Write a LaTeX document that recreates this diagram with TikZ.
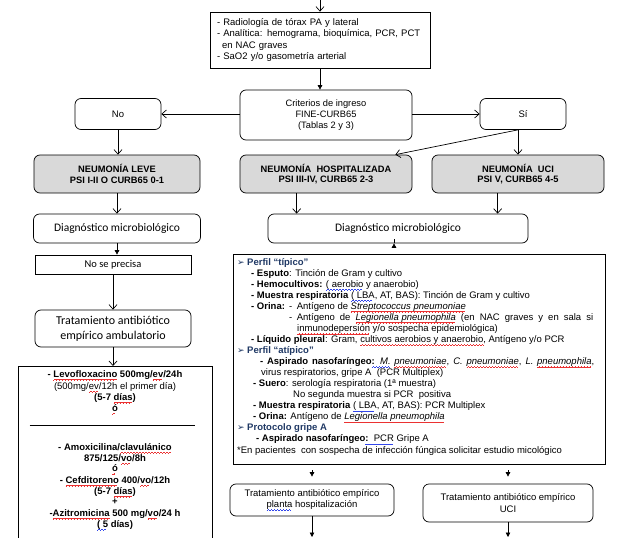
\documentclass[tikz,border=0pt]{standalone}
\usepackage{fontspec}
\setmainfont{Liberation Sans}
\newfontfamily\calibfont{Carlito}
\newfontfamily\djvfont{DejaVu Sans}
\usetikzlibrary{arrows.meta,calc}
\definecolor{boxgray}{RGB}{217,217,217}
\definecolor{navy}{RGB}{31,56,100}
\definecolor{sqred}{RGB}{235,50,50}
\definecolor{sqblue}{RGB}{50,70,235}
\newcommand{\fs}[2]{\fontsize{#1}{#2}\selectfont}
\newcommand{\arrb}{{\djvfont\fs{9}{11}\char"27A2}\hspace{2.5pt}}
\newcommand{\wavecell}{\hbox{\rule[-3.0pt]{0.75pt}{0.5pt}\rule[-2.6pt]{0.75pt}{0.5pt}\rule[-2.2pt]{0.75pt}{0.5pt}\rule[-2.6pt]{0.75pt}{0.5pt}}}
\newcommand{\sqg}[2]{\setbox0\hbox{#2}\rlap{\color{#1}\hbox to\wd0{\leaders\wavecell\hfil}}\box0\relax}
\newcommand{\rw}[1]{\sqg{sqred}{#1}}
\newcommand{\bw}[1]{\sqg{sqblue}{#1}}
\begin{document}
\begin{tikzpicture}[x=1pt,y=-1pt,
  box/.style={draw, line width=0.7pt, inner sep=0pt, align=center, font=\fs{9.5}{11.5}},
  rbox/.style={box, rounded corners=6pt},
  gbox/.style={rbox, fill=boxgray, font=\bfseries\fs{9.3}{10.8}},
  oarr/.style={draw, line width=0.7pt, -{Straight Barb[length=4.5pt,width=8pt]}},
  farr/.style={draw, line width=0.7pt, -{Triangle[length=4.5pt,width=4.5pt]}},
  tl/.style={anchor=base west, inner sep=0pt, font=\fs{9.5}{11}},
  tc/.style={anchor=base, inner sep=0pt, font=\bfseries\fs{9.5}{11}},
  hd/.style={tl, text=navy, font=\bfseries\fs{9.5}{11}},
]
\useasboundingbox (0,0) rectangle (622,538);

% top
\coordinate (in) at (320,0);
\node[box, minimum width=220pt, minimum height=56pt, text width=206pt, align=left] (top) at (320,40)
 {- Radiología de tórax PA y lateral\\- Analítica: hemograma, bioquímica, PCR, PCT\\\hspace*{5pt}en NAC graves\\- SaO2 y/o gasometría arterial};
\draw[oarr] (in) -- (top.north);

\node[rbox, minimum width=172pt, minimum height=50pt, font=\fs{9.3}{11}] (crit) at (326,115)
 {Criterios de ingreso\\FINE-CURB65\\(Tablas 2 y 3)};
\draw[farr] (top.south) -- (top.south |- crit.north);

\node[rbox, minimum width=86pt, minimum height=31pt] (no) at (118,114) {No};
\node[rbox, minimum width=86pt, minimum height=31pt] (si) at (523,114) {Sí};
\draw[oarr] (crit.west |- no) -- (no.east);
\draw[oarr] (crit.east |- si) -- (si.west);

% gray boxes
\node[gbox, minimum width=166pt, minimum height=38pt] (leve) at (117,174) {NEUMONÍA LEVE\\PSI I-II O CURB65 0-1};
\node[gbox, minimum width=172pt, minimum height=38pt] (hosp) at (326,174) {NEUMONÍA\ \ HOSPITALIZADA\\PSI III-IV, CURB65 2-3};
\node[gbox, minimum width=172pt, minimum height=38pt] (uci) at (518,174) {NEUMONÍA\ \ UCI\\PSI V, CURB65 4-5};
\draw[oarr] (no.south) -- (no.south |- leve.north);
\coordinate (sib) at (uci.north |- si.south);
\draw[oarr] (sib) -- (uci.north);
\draw[oarr] (sib) -- ($(hosp.north east)+(-17,0)$);

% diagnostic boxes
\node[rbox, minimum width=167pt, minimum height=29pt, font=\calibfont\fs{11.5}{13}] (dl) at (117,228.5) {Diagnóstico microbiológico};
\node[rbox, minimum width=260pt, minimum height=29pt, font=\calibfont\fs{11.5}{13}] (dr) at (398,228.5) {Diagnóstico microbiológico};
\draw[oarr] (leve.south) -- (leve.south |- dl.north);
\coordinate (h1) at ($(hosp.south west)+(57,0)$);
\coordinate (u1) at ($(uci.south west)+(66,0)$);
\draw[oarr] (h1) -- (h1 |- dr.north);
\draw[oarr] (u1) -- (u1 |- dr.north);

% left column
\node[box, minimum width=156pt, minimum height=19pt, font=\calibfont\fs{10.5}{12}] (nsp) at (113,264.5) {No se precisa};
\draw[farr] (dl.south) -- (dl.south |- nsp.north);
\node[rbox, minimum width=156pt, minimum height=37pt, font=\calibfont\fs{12}{15}] (tamb) at (113,328.5) {Tratamiento antibiótico\\empírico ambulatorio};
\draw[oarr] (nsp.south) -- (tamb.north);
\node[box, minimum width=194pt, minimum height=182pt, anchor=north] (levo) at (115,366) {};
\draw[oarr] (tamb.south) -- (tamb.south |- levo.north);
\node[tc] (v1) at (115,377) {- \rw{Levofloxacino} 500mg/\rw{ev}/24h};
\node[tc, font=\fs{9.5}{11}] (v2) at (115,389) {(500mg/\rw{ev}/12h el primer día)};
\node[tc] (v3) at (115,400) {(5-7 \rw{días})};
\node[tc] (v4) at (115,411) {\rw{ó}};
\draw[line width=0.7pt] ($(levo.north west)+(12,59)$) -- ($(levo.north east)+(-17,59)$);
\node[tc] (v5) at (115,450) {- Amoxicilina/\rw{clavulánico}};
\node[tc] (v6) at (115,461) {875/125/\rw{vo}/8h};
\node[tc] (v7) at (115,471.5) {\rw{ó}};
\node[tc] (v8) at (115,483) {- \rw{Cefditoreno} 400/\rw{vo}/12h};
\node[tc] (v9) at (115,494) {(5-7 \rw{días})};
\node[tc] (v10) at (115,504) {+};
\node[tc] (v11) at (115,516) {-\rw{Azitromicina} 500 mg/\rw{vo}/24 h};
\node[tc] (v12) at (115,527) {\bw{( 5} días)};

% big box
\node[box, minimum width=372pt, minimum height=210pt] (big) at (419,359) {};
\draw[farr] ($(dr.south)+(-4,0)$) -- ($(dr.south)+(-4,0)$ |- big.north);
\node[hd] (b1) at (237,265.0) {\arrb Perfil “típico”};
\node[tl] (b2) at (251,276.1) {\textbf{- Esputo}: Tinción de Gram y cultivo};
\node[tl] (b3) at (251,287.1) {\textbf{- Hemocultivos:} \bw{( aerobio} y anaerobio)};
\node[tl] (b4) at (251,298.2) {\textbf{- Muestra respiratoria} \bw{( LBA}, AT, BAS): Tinción de Gram y cultivo};
\node[tl] (b5) at (251,309.2) {\textbf{- Orina:}};
\node[tl] (b5b) at (289,309.2) {-\hspace{4.5pt}Antígeno de \textit{\rw{Streptococcus pneumoniae}}};
\node[tl] (b6) at (289,320.3) {\makebox[304pt][s]{-\hspace{4.5pt}Antígeno de \textit{\rw{Legionella pneumophila}} (en NAC graves y en sala si}};
\node[tl] (b7) at (297,331.4) {\rw{inmunodepersión} y/o sospecha epidemiológica)};
\node[tl] (b8) at (251,342.4) {\textbf{- Líquido pleural}: Gram, \rw{cultivos aerobios y anaerobio}, Antígeno y/o PCR};
\node[hd] (b9) at (237,353.5) {\arrb Perfil “atípico”};
\node[tl] (b10) at (260,364.5) {\makebox[334pt][s]{\textbf{- Aspirado nasofaríngeo}\bw{\textbf{:}\ \ \textit{M.}} \textit{\rw{pneumoniae}}, \textit{C. \rw{pneumoniae}}, \textit{L. \rw{pneumophila}},}};
\node[tl] (b11) at (261,375.6) {virus respiratorios, gripe A \ (PCR Multiplex)};
\node[tl] (b12) at (253,386.7) {\textbf{- Suero}: serología respiratoria (1ª muestra)};
\node[tl] (b13) at (293,397.7) {No segunda muestra si PCR \ positiva};
\node[tl] (b14) at (253,408.8) {\textbf{- Muestra respiratoria} \bw{( LBA}, AT, BAS): PCR Multiplex};
\node[tl] (b15) at (253,419.8) {\textbf{- Orina:} Antígeno de \textit{\rw{Legionella pneumophila}}};
\node[hd] (b16) at (237,430.9) {\arrb Protocolo gripe A};
\node[tl] (b17) at (256,441.9) {\textbf{- Aspirado nasofaríngeo}\bw{\textbf{:}\ \ PCR} Gripe A};
\node[tl] (b18) at (237,453.0) {*En pacientes \ con sospecha de infección fúngica solicitar estudio micológico};

% bottom
\node[rbox, minimum width=164pt, minimum height=32pt] (th) at (312,500) {Tratamiento antibiótico empírico\\\bw{planta} hospitalización};
\node[rbox, minimum width=170pt, minimum height=38pt] (tu) at (508,503) {Tratamiento antibiótico empírico\\UCI};
\draw[farr, shorten <=6pt, shorten >=7pt] (th.north |- big.south) -- (th.north);
\draw[farr, shorten <=6pt, shorten >=7pt] (tu.north |- big.south) -- (tu.north);
\coordinate (e1) at (312,537);
\coordinate (e2) at (508,537);
\draw[farr] (th.south) -- (e1);
\draw[farr] (tu.south) -- (e2);
\end{tikzpicture}
\end{document}
